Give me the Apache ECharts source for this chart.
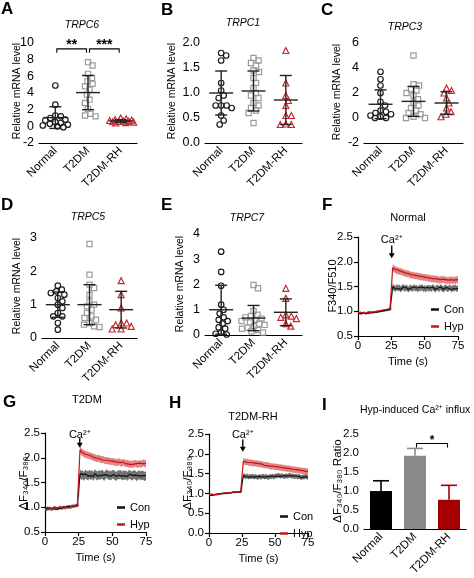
<!DOCTYPE html>
<html><head><meta charset="utf-8">
<script src="https://cdn.jsdelivr.net/npm/echarts@6/dist/echarts.min.js"></script>
<style>html,body{margin:0;padding:0;background:#fff}#c{width:474px;height:578px}</style>
</head><body><div id="c"></div>
<script>
// ---------- categories ----------
const groups = ['Normal', 'T2DM', 'T2DM-RH'];
const legendNames = ['Con', 'Hyp'];

// ---------- A: TRPC6 ----------
const trpc6Normal = [4.9, 2.6, 1.3, 1.2, 1.0, 0.8, 0.7, 0.5, 0.4, 0.3, 0.2, 0.1, 0.0, -0.1];
const trpc6T2dm   = [7.7, 7.3, 6.3, 5.8, 5.4, 5.1, 4.8, 4.4, 3.8, 3.2, 2.8, 2.1, 1.5, 1.3, 1.2];
const trpc6Rh     = [1.0, 0.9, 0.8, 0.75, 0.7, 0.65, 0.6, 0.6, 0.55, 0.5, 0.45, 0.4];
const trpc6Mean = [1.05, 4.05, 0.65];
const trpc6Sd   = [1.3, 2.05, 0.15];
const trpc6SigFrom = [0, 1], trpc6SigTo = [1, 2], trpc6SigY = [9.3, 9.3], trpc6SigText = ['**', '***'];

// ---------- B: TRPC1 ----------
const trpc1Normal = [1.80, 1.75, 1.65, 1.2, 1.05, 0.95, 0.9, 0.75, 0.75, 0.75, 0.7, 0.55, 0.45, 0.37];
const trpc1T2dm   = [1.7, 1.65, 1.6, 1.55, 1.45, 1.42, 1.3, 1.2, 1.1, 1.0, 0.95, 0.9, 0.8, 0.75, 0.7, 0.65, 0.6, 0.4];
const trpc1Rh     = [1.85, 1.2, 0.95, 0.85, 0.75, 0.55, 0.55, 0.38, 0.37, 0.37];
const trpc1Mean = [1.0, 1.04, 0.86];
const trpc1Sd   = [0.44, 0.4, 0.49];

// ---------- C: TRPC3 ----------
const trpc3Normal = [3.7, 3.1, 2.6, 2.0, 1.3, 1.0, 0.6, 0.5, 0.4, 0.3, 0.2, 0.1, 0.0, 0.0];
const trpc3T2dm   = [5.0, 2.7, 2.6, 2.3, 2.2, 2.0, 1.8, 1.5, 1.2, 1.0, 0.8, 0.6, 0.4, 0.3, 0.1, 0.0, 0.0];
const trpc3Rh     = [2.4, 2.2, 2.0, 1.6, 1.2, 0.8, 0.5, 0.3, 0.1];
const trpc3Mean = [1.1, 1.33, 1.2];
const trpc3Sd   = [1.15, 1.2, 0.9];

// ---------- D: TRPC5 ----------
const trpc5Normal = [1.57, 1.45, 1.4, 1.35, 1.3, 1.2, 1.1, 1.0, 0.9, 0.75, 0.65, 0.65, 0.45, 0.25];
const trpc5T2dm   = [2.82, 1.9, 1.6, 1.5, 1.3, 1.1, 1.0, 0.95, 0.85, 0.75, 0.65, 0.6, 0.55, 0.45, 0.4, 0.35, 0.33];
const trpc5Rh     = [1.72, 1.3, 0.9, 0.45, 0.45, 0.4, 0.35, 0.27, 0.27];
const trpc5Mean = [1.0, 1.0, 0.85];
const trpc5Sd   = [0.38, 0.6, 0.55];

// ---------- E: TRPC7 ----------
const trpc7Normal = [3.3, 2.5, 1.95, 1.2, 1.0, 0.85, 0.7, 0.6, 0.55, 0.45, 0.3, 0.25, 0.1, 0.05, 0.02];
const trpc7T2dm   = [1.98, 1.85, 0.95, 0.8, 0.75, 0.7, 0.65, 0.6, 0.55, 0.5, 0.45, 0.4, 0.35, 0.3, 0.25, 0.2, 0.15, 0.1];
const trpc7Rh     = [1.85, 1.45, 0.8, 0.75, 0.7, 0.65, 0.45, 0.35];
const trpc7Mean = [1.0, 0.67, 0.9];
const trpc7Sd   = [0.97, 0.5, 0.53];

// ---------- F/G/H: Ca2+ traces (1 s sampling, 0..75 s) ----------
const caTime = 25;
const fCon = [0.96,0.97,0.95,0.96,0.97,0.96,0.95,0.97,0.96,0.97,
  0.98,0.97,0.98,0.99,0.98,1.00,0.99,1.01,1.00,1.02,
  1.01,1.03,1.02,1.04,1.03,1.05,1.50,1.47,1.45,1.49,
  1.46,1.48,1.44,1.47,1.49,1.45,1.48,1.46,1.44,1.48,
  1.47,1.45,1.49,1.46,1.47,1.44,1.48,1.46,1.49,1.45,
  1.47,1.44,1.48,1.46,1.47,1.45,1.49,1.46,1.44,1.48,
  1.47,1.45,1.49,1.46,1.44,1.47,1.48,1.45,1.46,1.49,
  1.44,1.47,1.46,1.48,1.45,1.47];
const fHyp = [0.97,0.96,0.98,0.95,0.97,0.98,0.96,0.97,0.99,0.97,
  0.98,0.96,0.99,0.98,1.00,0.99,1.01,1.00,1.02,1.01,
  1.03,1.02,1.04,1.03,1.05,1.06,1.88,1.86,1.84,1.82,
  1.83,1.80,1.81,1.78,1.79,1.76,1.77,1.75,1.76,1.73,
  1.74,1.72,1.73,1.71,1.72,1.70,1.71,1.69,1.70,1.68,
  1.69,1.67,1.68,1.66,1.67,1.65,1.66,1.64,1.66,1.63,
  1.65,1.62,1.64,1.63,1.65,1.62,1.64,1.61,1.63,1.62,
  1.64,1.61,1.63,1.62,1.64,1.63];
const gCon = [0.97,0.95,0.99,0.96,0.98,0.95,0.97,1.00,0.96,0.98,
  0.97,1.01,0.98,0.99,1.00,0.98,1.01,0.99,1.02,1.00,
  1.01,1.03,1.02,1.04,1.03,1.05,1.68,1.64,1.66,1.62,
  1.67,1.65,1.63,1.67,1.64,1.66,1.62,1.68,1.65,1.63,
  1.66,1.64,1.67,1.65,1.62,1.66,1.68,1.64,1.65,1.63,
  1.67,1.66,1.64,1.62,1.66,1.65,1.67,1.63,1.65,1.64,
  1.66,1.62,1.65,1.67,1.63,1.64,1.66,1.65,1.62,1.64,
  1.66,1.63,1.65,1.64,1.62,1.64];
const gHyp = [0.96,0.98,0.95,0.99,0.97,0.96,0.99,0.97,1.00,0.96,
  0.99,0.98,1.00,0.97,1.01,0.99,1.00,1.02,0.99,1.01,
  1.03,1.01,1.02,1.04,1.03,1.05,2.16,2.12,2.10,2.08,
  2.07,2.05,2.06,2.03,2.04,2.02,2.01,2.00,1.99,1.98,
  1.99,1.97,1.96,1.97,1.95,1.94,1.95,1.93,1.94,1.92,
  1.93,1.91,1.92,1.90,1.91,1.92,1.90,1.89,1.91,1.90,
  1.88,1.89,1.87,1.88,1.86,1.88,1.87,1.89,1.88,1.86,
  1.89,1.87,1.88,1.90,1.88,1.89];
const hCon = [0.96,0.97,0.95,0.96,0.97,0.96,0.98,0.97,0.99,0.98,
  1.00,0.99,1.00,1.01,1.00,1.02,1.01,1.02,1.03,1.02,
  1.03,1.04,1.03,1.04,1.03,1.04,1.45,1.44,1.42,1.44,
  1.41,1.43,1.42,1.44,1.41,1.43,1.42,1.40,1.43,1.41,
  1.42,1.44,1.41,1.43,1.42,1.40,1.43,1.42,1.44,1.41,
  1.43,1.45,1.44,1.46,1.43,1.45,1.44,1.42,1.45,1.43,
  1.44,1.46,1.45,1.43,1.44,1.42,1.44,1.41,1.43,1.42,
  1.40,1.42,1.41,1.43,1.42,1.40];
const hHyp = [0.97,0.96,0.98,0.96,0.97,0.98,0.97,0.99,0.98,0.99,
  1.00,0.99,1.01,1.00,1.01,1.02,1.01,1.02,1.03,1.02,
  1.04,1.03,1.04,1.05,1.04,1.05,1.82,1.80,1.79,1.80,
  1.78,1.77,1.78,1.76,1.77,1.75,1.76,1.74,1.75,1.73,
  1.74,1.72,1.71,1.72,1.70,1.71,1.69,1.68,1.69,1.67,
  1.68,1.66,1.67,1.65,1.66,1.64,1.65,1.63,1.64,1.62,
  1.63,1.61,1.62,1.60,1.61,1.59,1.60,1.58,1.59,1.57,
  1.58,1.56,1.57,1.56,1.55,1.56];
// SEM [before Ca2+, after Ca2+]
const fConSem = [0.02, 0.06], fHypSem = [0.02, 0.07];
const gConSem = [0.03, 0.09], gHypSem = [0.03, 0.07];
const hConSem = [0.02, 0.06], hHypSem = [0.02, 0.08];
const sampleTimes = fCon.map((_, i) => i);
// Ca2+ arrow annotation: [time, text y, arrow start y, arrow tip y]
const fArrow = [25.3, 2.45, 2.33, 2.07];
const gArrow = [25.8, 2.47, 2.40, 2.20];
const hArrow = [25.6, 2.47, 2.36, 2.05];

// ---------- I: Hyp-induced influx ----------
const influxMean = [1.0, 1.93, 0.77];
const influxErr  = [0.27, 0.19, 0.38];
const influxSigFrom = [1], influxSigTo = [2], influxSigY = [2.25], influxSigText = ['*'];

// ---------- styling ----------
const FONT = '"Liberation Sans", Arial, Helvetica, sans-serif';
const grpColors = ['#1c1c1c', '#9b9b9b', '#c42a30'];
const grpSymbols = ['circle', 'rect', 'triangle'];
const grpSizes = [5.5, 5.2, 6];
const barColors = ['#000000', '#8a8a8a', '#a50000'];
const conColor = '#111111', hypColor = '#c8141c';
const conBand = 'rgba(80,80,80,0.8)', hypBand = 'rgba(205,50,50,0.6)';

const grids = [], xAxes = [], yAxes = [], series = [], legends = [];

function axisBase(fs) {
  return {
    nameMoveOverlap: false,
    axisLine: { onZero: false, lineStyle: { color: '#000', width: 1.2 } },
    axisTick: { length: 4, lineStyle: { color: '#000', width: 1.2 } },
    axisLabel: { color: '#000', fontSize: fs, fontFamily: FONT, margin: 5 },
    splitLine: { show: false },
    nameTextStyle: { color: '#000', fontSize: 11, fontFamily: FONT }
  };
}

// compact swarm layout, capped in width (points may overlap like the original)
function beeswarm(values, pxPerUnit, d, maxW) {
  const order = values.map((v, i) => i).sort((a, b) => values[b] - values[a]);
  const placed = [], offs = new Array(values.length);
  for (const i of order) {
    const y = values[i] * pxPerUnit;
    let best = 0, bestD = -1;
    for (let s = 0; ; s++) {
      const cand = s === 0 ? 0 : (s % 2 ? 1 : -1) * Math.ceil(s / 2) * 0.5;
      if (Math.abs(cand) > maxW) break;
      const md = placed.length ? Math.min(...placed.map(p => Math.hypot(p.x - cand, p.y - y))) : Infinity;
      if (md >= d) { best = cand; bestD = md; break; }
      if (md > bestD + 0.01) { bestD = md; best = cand; }
    }
    placed.push({ x: best, y }); offs[i] = best;
  }
  return offs;
}

function bracketSeries(k, from, to, ys, texts, fs) {
  return {
    type: 'custom', xAxisIndex: k, yAxisIndex: k, silent: true, z: 6, clip: false,
    data: from.map((f, i) => [f, ys[i], to[i]]),
    renderItem: (p, api) => {
      const a = api.coord([api.value(0), api.value(1)]);
      const b = api.coord([api.value(2), api.value(1)]);
      const x1 = a[0] + 1.5, x2 = b[0] - 1.5, y = a[1];
      return { type: 'group', children: [
        { type: 'polyline', shape: { points: [[x1, y + 4], [x1, y], [x2, y], [x2, y + 4]] },
          style: { stroke: '#000', lineWidth: 1.1, fill: null } },
        { type: 'text', x: (x1 + x2) / 2, y: y + 3,
          style: { text: texts[p.dataIndex], fontSize: fs, fontWeight: 'bold', fontFamily: FONT,
                   fill: '#000', align: 'center', verticalAlign: 'bottom' } }
      ] };
    }
  };
}

function scatterPanel(k, box, min, max, interval, dec, values, mean, sd) {
  grids.push({ left: box[0], top: box[1], width: box[2], height: box[3] });
  const xb = axisBase(11.5);
  xAxes.push(Object.assign(xb, {
    type: 'category', gridIndex: k, data: groups,
    axisTick: Object.assign(xb.axisTick, { alignWithLabel: true }),
    axisLabel: Object.assign(xb.axisLabel, { rotate: 45, interval: 0, margin: 6 })
  }));
  const yb = axisBase(12.5);
  yAxes.push(Object.assign(yb, {
    type: 'value', gridIndex: k, min, max, interval,
    axisLabel: Object.assign(yb.axisLabel, { formatter: v => v.toFixed(dec) })
  }));
  const ppu = box[3] / (max - min);
  values.forEach((vals, g) => {
    const offs = beeswarm(vals, ppu, 5.5, 13);
    series.push({
      type: 'scatter', xAxisIndex: k, yAxisIndex: k, z: 2,
      symbol: grpSymbols[g], symbolSize: grpSizes[g],
      itemStyle: { color: 'rgba(255,255,255,0)', borderColor: grpColors[g], borderWidth: 1.2, opacity: 1 },
      data: vals.map((v, i) => ({ value: [g, v], symbolOffset: [offs[i], 0] }))
    });
  });
  series.push({
    type: 'custom', xAxisIndex: k, yAxisIndex: k, silent: true, z: 4,
    data: mean.map((m, i) => [i, m, sd[i]]),
    renderItem: (p, api) => {
      const x = api.value(0), m = api.value(1), s = api.value(2);
      const c = api.coord([x, m]), hi = api.coord([x, m + s]), lo = api.coord([x, m - s]);
      const st = { stroke: '#222', lineWidth: 1.4 };
      return { type: 'group', children: [
        { type: 'line', shape: { x1: c[0] - 12, y1: c[1], x2: c[0] + 12, y2: c[1] }, style: st },
        { type: 'line', shape: { x1: c[0], y1: hi[1], x2: c[0], y2: lo[1] }, style: st },
        { type: 'line', shape: { x1: c[0] - 6, y1: hi[1], x2: c[0] + 6, y2: hi[1] }, style: st },
        { type: 'line', shape: { x1: c[0] - 6, y1: lo[1], x2: c[0] + 6, y2: lo[1] }, style: st }
      ] };
    }
  });
}

function bandSeries(k, mean, sem, color) {
  return {
    type: 'custom', xAxisIndex: k, yAxisIndex: k, silent: true, z: 1,
    data: [[sampleTimes[0], mean[0]]],
    renderItem: (p, api) => {
      const up = [], lo = [];
      mean.forEach((v, i) => {
        const s = sampleTimes[i] <= caTime ? sem[0] : sem[1];
        up.push(api.coord([sampleTimes[i], v + s]));
        lo.push(api.coord([sampleTimes[i], v - s]));
      });
      return { type: 'polygon', shape: { points: up.concat(lo.reverse()) }, style: { fill: color } };
    }
  };
}

function tracePanel(k, box, min, con, hyp, conSem, hypSem, arrow, legPos) {
  grids.push({ left: box[0], top: box[1], width: box[2], height: box[3] });
  const xb = axisBase(11.5);
  xAxes.push(Object.assign(xb, {
    type: 'value', gridIndex: k, min: 0, max: 75, interval: 25,
    name: 'Time (s)', nameLocation: 'middle', nameGap: 20,
    axisLabel: Object.assign(xb.axisLabel, { margin: 4 })
  }));
  const yb = axisBase(11.5);
  yAxes.push(Object.assign(yb, {
    type: 'value', gridIndex: k, min, max: 2.5, interval: 0.5,
    axisLabel: Object.assign(yb.axisLabel, { formatter: v => v.toFixed(1) })
  }));
  series.push(bandSeries(k, con, conSem, conBand));
  series.push(bandSeries(k, hyp, hypSem, hypBand));
  series.push({ type: 'line', name: 'Con', xAxisIndex: k, yAxisIndex: k, z: 3, color: conColor,
    showSymbol: false, lineStyle: { width: 1.2, color: conColor },
    data: con.map((v, i) => [sampleTimes[i], v]) });
  series.push({ type: 'line', name: 'Hyp', xAxisIndex: k, yAxisIndex: k, z: 3, color: hypColor,
    showSymbol: false, lineStyle: { width: 1.2, color: hypColor },
    data: hyp.map((v, i) => [sampleTimes[i], v]) });
  series.push({
    type: 'custom', xAxisIndex: k, yAxisIndex: k, silent: true, z: 7, clip: false,
    data: [arrow],
    renderItem: (p, api) => {
      const t = api.coord([api.value(0), api.value(1)]);
      const a = api.coord([api.value(0), api.value(2)]);
      const b = api.coord([api.value(0), api.value(3)]);
      return { type: 'group', children: [
        { type: 'text', x: t[0], y: t[1],
          style: { text: 'Ca²⁺', fontSize: 11, fontFamily: FONT, fill: '#000', align: 'center', verticalAlign: 'middle' } },
        { type: 'line', shape: { x1: a[0], y1: a[1], x2: b[0], y2: b[1] - 4 }, style: { stroke: '#000', lineWidth: 1.4 } },
        { type: 'polygon', shape: { points: [[b[0] - 3, b[1] - 5], [b[0] + 3, b[1] - 5], [b[0], b[1]]] }, style: { fill: '#000' } }
      ] };
    }
  });
  legends.push({
    data: legendNames, orient: 'vertical', left: legPos[0], top: legPos[1], itemGap: 6,
    icon: 'rect', itemWidth: 8, itemHeight: 2.5, selectedMode: false,
    textStyle: { fontSize: 11, fontFamily: FONT, color: '#000' }
  });
}

// ---------- build panels ----------
scatterPanel(0, [39, 43, 98, 100], -2, 10, 2, 0, [trpc6Normal, trpc6T2dm, trpc6Rh], trpc6Mean, trpc6Sd);
series.push(bracketSeries(0, trpc6SigFrom, trpc6SigTo, trpc6SigY, trpc6SigText, 14));
scatterPanel(1, [205, 43, 97, 100], 0, 2, 0.5, 1, [trpc1Normal, trpc1T2dm, trpc1Rh], trpc1Mean, trpc1Sd);
scatterPanel(2, [364, 43, 99, 100], -2, 6, 2, 0, [trpc3Normal, trpc3T2dm, trpc3Rh], trpc3Mean, trpc3Sd);
scatterPanel(3, [42, 238, 95, 100], 0, 3, 1, 0, [trpc5Normal, trpc5T2dm, trpc5Rh], trpc5Mean, trpc5Sd);
scatterPanel(4, [205, 234, 97, 101], 0, 4, 1, 0, [trpc7Normal, trpc7T2dm, trpc7Rh], trpc7Mean, trpc7Sd);

tracePanel(5, [358, 237, 100, 99], 0.5, fCon, fHyp, fConSem, fHypSem, fArrow, [426, 299]);
tracePanel(6, [45, 433, 101, 99], 0.5, gCon, gHyp, gConSem, gHypSem, gArrow, [112, 497]);
tracePanel(7, [209, 434, 99, 99], 0, hCon, hHyp, hConSem, hHypSem, hArrow, [275, 506]);

// Panel I
grids.push({ left: 364, top: 434, width: 102, height: 99 });
{
  const xb = axisBase(11.5);
  xAxes.push(Object.assign(xb, {
    type: 'category', gridIndex: 8, data: groups,
    axisTick: Object.assign(xb.axisTick, { alignWithLabel: true }),
    axisLabel: Object.assign(xb.axisLabel, { rotate: 45, interval: 0, margin: 6 })
  }));
  const yb = axisBase(11.5);
  yAxes.push(Object.assign(yb, {
    type: 'value', gridIndex: 8, min: 0, max: 2.5, interval: 0.5,
    axisLabel: Object.assign(yb.axisLabel, { formatter: v => v.toFixed(1) })
  }));
}
series.push({
  type: 'bar', xAxisIndex: 8, yAxisIndex: 8, barWidth: 22, z: 2,
  data: influxMean.map((v, i) => ({ value: v, itemStyle: { color: barColors[i] } }))
});
series.push({
  type: 'custom', xAxisIndex: 8, yAxisIndex: 8, silent: true, z: 1,
  data: influxMean.map((m, i) => [i, m, influxErr[i]]),
  renderItem: (p, api) => {
    const x = api.value(0), m = api.value(1), e = api.value(2);
    const c = api.coord([x, m]), hi = api.coord([x, m + e]);
    const st = { stroke: barColors[p.dataIndex], lineWidth: 1.6 };
    return { type: 'group', children: [
      { type: 'line', shape: { x1: c[0], y1: c[1], x2: c[0], y2: hi[1] }, style: st },
      { type: 'line', shape: { x1: c[0] - 8, y1: hi[1], x2: c[0] + 8, y2: hi[1] }, style: st }
    ] };
  }
});
series.push(bracketSeries(8, influxSigFrom, influxSigTo, influxSigY, influxSigText, 12));

// ---------- texts ----------
function txt(x, y, text, opts, rot) {
  return Object.assign({ type: 'text', x, y, silent: true, rotation: rot || 0,
    style: Object.assign({ text, fontFamily: FONT, fill: '#000', fontSize: 11, align: 'center', verticalAlign: 'middle' }, opts) });
}
const letterStyle = { fontSize: 17, fontWeight: 'bold', align: 'left', verticalAlign: 'top' };
const V = Math.PI / 2;
const graphics = [
  txt(1, 1, 'A', letterStyle), txt(161, 2, 'B', letterStyle), txt(321, 2, 'C', letterStyle),
  txt(1, 197, 'D', letterStyle), txt(161, 197, 'E', letterStyle), txt(322, 197, 'F', letterStyle),
  txt(3, 394, 'G', letterStyle), txt(169, 395, 'H', letterStyle), txt(322, 397, 'I', letterStyle),
  txt(82, 25, 'TRPC6', { fontStyle: 'italic', fontSize: 10.5 }),
  txt(243, 23, 'TRPC1', { fontStyle: 'italic', fontSize: 10.5 }),
  txt(405, 27, 'TRPC3', { fontStyle: 'italic', fontSize: 10.5 }),
  txt(88, 217, 'TRPC5', { fontStyle: 'italic', fontSize: 10.5 }),
  txt(247, 218, 'TRPC7', { fontStyle: 'italic', fontSize: 10.5 }),
  txt(408, 218, 'Normal', { fontSize: 11 }),
  txt(87, 400, 'T2DM', { fontSize: 11 }),
  txt(253, 417, 'T2DM-RH', { fontSize: 11 }),
  txt(360, 410, 'Hyp-induced Ca²⁺ influx', { fontSize: 10.5, align: 'left' }),
  // y-axis titles
  txt(17, 91, 'Relative mRNA level', { fontSize: 10.5 }, V),
  txt(172, 91, 'Relative mRNA level', { fontSize: 10.5 }, V),
  txt(337.5, 92, 'Relative mRNA level', { fontSize: 10.5 }, V),
  txt(17, 286, 'Relative mRNA level', { fontSize: 10.5 }, V),
  txt(180, 284, 'Relative mRNA level', { fontSize: 10.5 }, V),
  txt(333, 286, 'F340/F510', { fontSize: 11 }, V),
  txt(24, 483, 'ΔF₃₄₀/F₃₈₀', { fontSize: 11.5 }, V),
  txt(188, 483, 'ΔF₃₄₀/F₃₈₀', { fontSize: 11.5 }, V),
  txt(338, 481, 'ΔF₃₄₀/F₃₈₀ Ratio', { fontSize: 11.5 }, V)
];

const chart = echarts.init(document.getElementById('c'), null, { renderer: 'canvas' });
chart.setOption({
  animation: false,
  backgroundColor: '#fff',
  grid: grids, xAxis: xAxes, yAxis: yAxes, series, legend: legends,
  graphic: graphics
});
</script>
</body></html>
